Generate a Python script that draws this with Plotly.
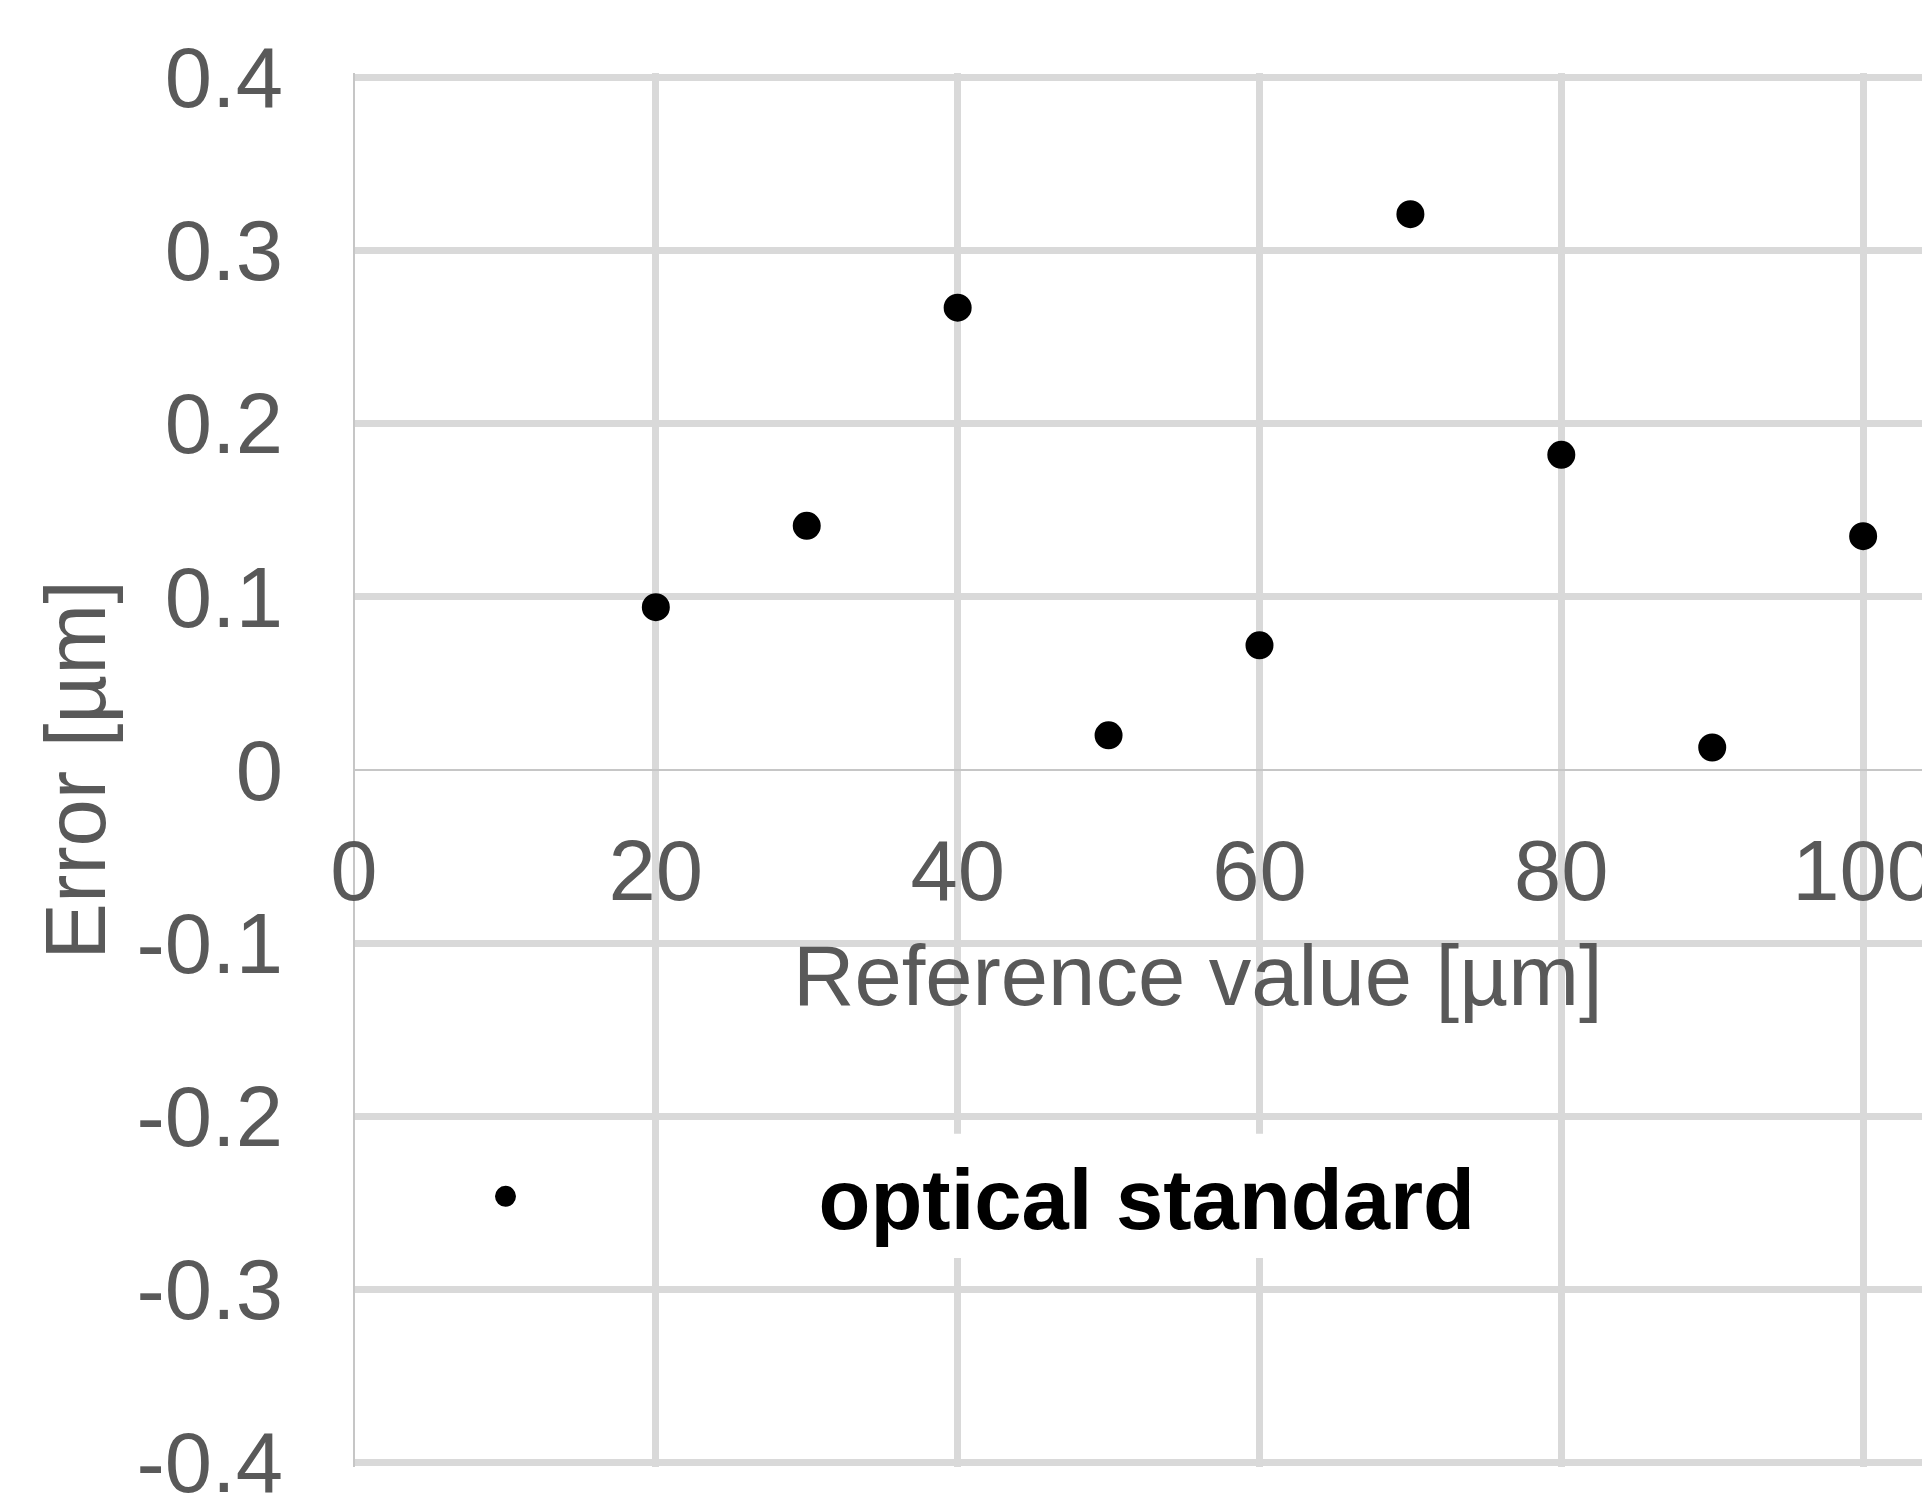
import plotly.graph_objects as go

# Data
ref_values = [20, 30, 40, 50, 60, 70, 80, 90, 100]
errors = [0.094, 0.141, 0.267, 0.020, 0.072, 0.321, 0.182, 0.013, 0.135]
series_name = "optical standard"

x_ticks = [0, 20, 40, 60, 80, 100, 120]
x_ticktext = ["0", "20", "40", "60", "80", "100", "120"]
y_ticks = [0.4, 0.3, 0.2, 0.1, 0, -0.1, -0.2, -0.3, -0.4]
y_ticktext = ["0.4", "0.3", "0.2", "0.1", "0", "-0.1", "-0.2", "-0.3", "-0.4"]

x_title = "Reference value [µm]"
y_title = "Error [µm]"

FONT = "Liberation Sans, Arial, sans-serif"
FS = 85
GRID = "#d9d9d9"
TXT = "#595959"

W, H = 1922, 1499
ML, MT, MB, MR = 354, 73, 32, 0

fig = go.Figure()
fig.add_trace(go.Scatter(
    x=ref_values, y=errors, mode="markers", name=series_name,
    marker=dict(color="black", size=22, line=dict(width=6, color="black")),
    showlegend=True,
))

fig.update_layout(
    width=W, height=H,
    margin=dict(l=ML, r=MR, t=MT, b=MB, autoexpand=False),
    paper_bgcolor="white", plot_bgcolor="white",
    font=dict(family=FONT, size=FS, color=TXT),
    showlegend=True,
    legend=dict(
        x=-0.103, y=0.194, xanchor="left", yanchor="middle",
        bgcolor="rgba(0,0,0,0)",
        font=dict(family=FONT, size=FS, color="black", weight="bold"),
        itemwidth=616,
    ),
    xaxis=dict(
        range=[0, 103.9],
        tickmode="array", tickvals=x_ticks, ticktext=x_ticktext,
        showgrid=True, gridcolor=GRID, gridwidth=7,
        zeroline=True, zerolinecolor="#c6c6c6", zerolinewidth=2,
        showline=False,
        anchor="free", position=0.5,
        ticks="", ticklabelstandoff=44,
        ticklabeloverflow="allow",
        tickfont=dict(family=FONT, size=FS, color=TXT),
        automargin=False,
    ),
    yaxis=dict(
        range=[-0.4025, 0.4025],
        tickmode="array", tickvals=y_ticks, ticktext=y_ticktext,
        showgrid=True, gridcolor=GRID, gridwidth=7,
        zeroline=True, zerolinecolor="#c6c6c6", zerolinewidth=2,
        showline=False,
        ticks="", ticklabelstandoff=70,
        ticklabeloverflow="allow",
        tickfont=dict(family=FONT, size=FS, color=TXT),
        title=dict(text=y_title, font=dict(family=FONT, size=FS, color=TXT), standoff=2),
        automargin=False,
    ),
    annotations=[dict(
        text=x_title, xref="paper", yref="paper", x=0.538, y=0.3527,
        xanchor="center", yanchor="middle", showarrow=False,
        font=dict(family=FONT, size=FS, color=TXT),
    )],
    shapes=[dict(
        type="rect", xref="paper", yref="paper",
        x0=0.29, x1=0.724, y0=0.150, y1=0.239,
        fillcolor="white", line=dict(width=0), layer="above",
    )],
)

fig.write_html(
    "out.html",
    config={"displayModeBar": False},
    post_script="document.body.style.margin='0';document.body.style.overflow='hidden';",
)
